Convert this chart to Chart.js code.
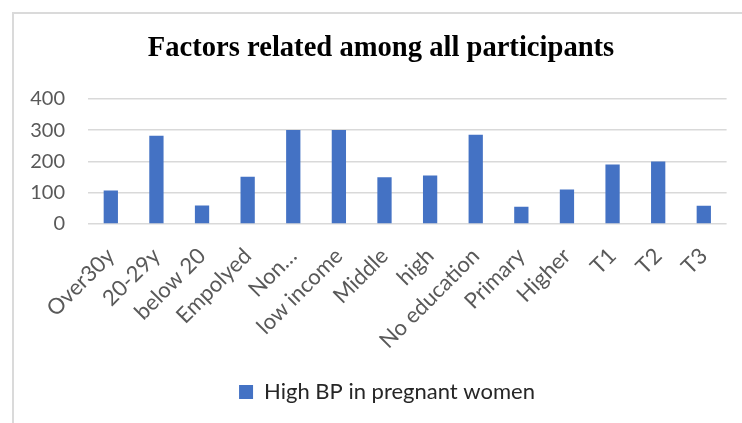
<!DOCTYPE html>
<html><head><meta charset="utf-8">
<script src="https://cdn.jsdelivr.net/npm/chart.js@4/dist/chart.umd.min.js"></script>
<style>
html,body{margin:0;padding:0;background:#fff;overflow:hidden;width:742px;height:423px}
#frame{position:absolute;left:12px;top:12px;width:800px;height:500px;border:2px solid #dadada;box-sizing:border-box}
#wrap{position:absolute;left:0;top:0;width:742px;height:423px}
</style></head><body>
<div id="frame"></div>
<div id="wrap"><canvas id="c" width="742" height="423"></canvas></div>
<script>
const categories = ["Over30y","20-29y","below 20","Empolyed","Non\u2026","low income","Middle","high","No education","Primary","Higher","T1","T2","T3"];
const highBP = [107,282,59,151,300,300,149,155,285,55,110,190,200,58];
const yTicks = [0,100,200,300,400];
const seriesName = "High BP in pregnant women";
const chartTitle = "Factors related among all participants";

const shiftBoxes = {
  id: 'shiftBoxes',
  afterLayout(chart) {
    if (chart.legend) { chart.legend.left += 10; chart.legend.right += 10; }
    if (chart.titleBlock) { chart.titleBlock.left += 4; chart.titleBlock.right += 4; }
  }
};

new Chart(document.getElementById('c'), {
  type: 'bar',
  data: {
    labels: categories,
    datasets: [{
      label: seriesName,
      data: highBP,
      backgroundColor: '#4472C4',
      borderWidth: 0,
      barPercentage: 0.313,
      categoryPercentage: 1.0
    }]
  },
  plugins: [shiftBoxes],
  options: {
    responsive: false,
    animation: false,
    devicePixelRatio: 1,
    layout: { padding: { left: 27, right: 15, top: 0, bottom: 10 } },
    plugins: {
      title: {
        display: true,
        text: chartTitle,
        color: '#000',
        font: { family: 'Liberation Serif', size: 28.6, weight: 'bold' },
        padding: { top: 31.5, bottom: 33 }
      },
      legend: {
        display: true,
        position: 'bottom',
        labels: {
          color: '#262626',
          font: { family: 'Lato', size: 22 },
          boxWidth: 14,
          boxHeight: 14,
          padding: 17
        }
      },
      tooltip: { enabled: false }
    },
    scales: {
      y: {
        min: 0, max: 400,
        afterBuildTicks: s => { s.ticks = yTicks.map(v => ({ value: v })); },
        afterFit: s => { s.width = 61; },
        ticks: { padding: 23, color: '#595959', font: { family: 'Lato', size: 20 } },
        grid: { color: '#d9d9d9', lineWidth: 1.5, drawTicks: false },
        border: { display: false }
      },
      x: {
        afterFit: s => { s.height = 140; },
        ticks: { minRotation: 45, maxRotation: 45, autoSkip: false, padding: 19, color: '#595959', font: { family: 'Lato', size: 22 } },
        grid: { display: false, drawTicks: false },
        border: { display: false }
      }
    }
  }
});
</script>
</body></html>
